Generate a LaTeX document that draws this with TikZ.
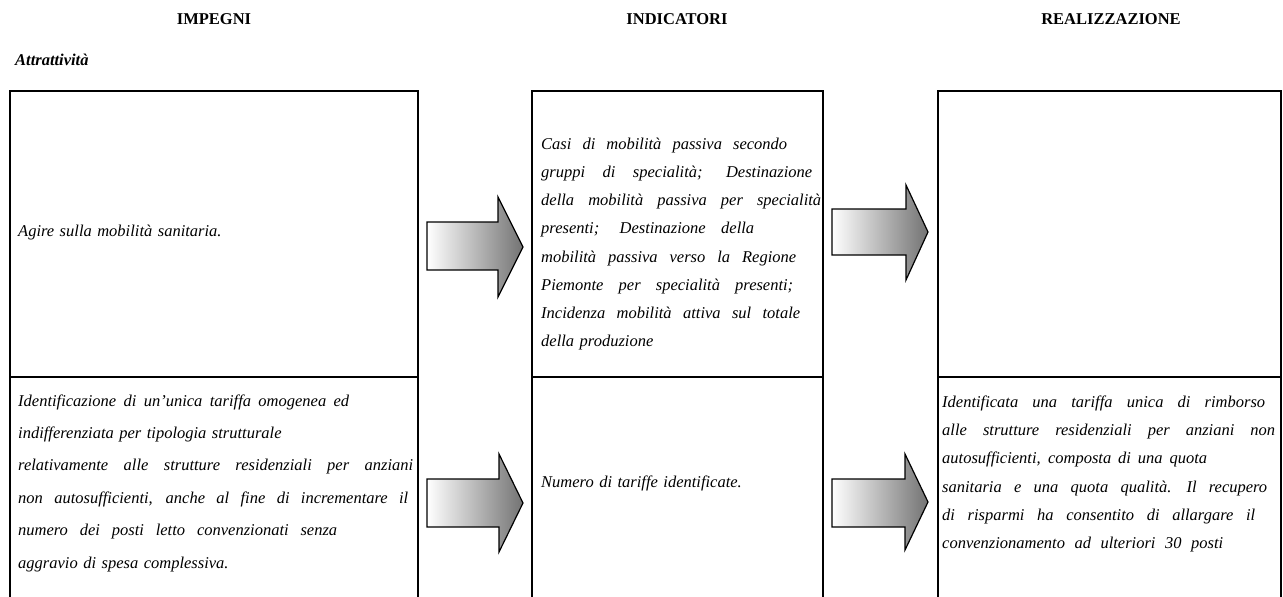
\documentclass[tikz,border=0pt]{standalone}
\usepackage{fontspec}
\setmainfont{Liberation Serif}
\newcommand\fitline[2]{\makebox[#1pt][s]{\spaceskip=.3333em plus 1fil\relax\xspaceskip=.5em plus 1fil\relax #2}}
\begin{document}
\begin{tikzpicture}[x=1pt,y=-1pt,
  frame/.style={line width=2pt, line cap=rect},
  bigarrow/.style={draw=black, line width=1.2pt, line join=miter, left color=white, right color=black!55},
  cell/.style={anchor=west, inner sep=0pt, align=left, font=\fontsize{16.5}{28.2}\selectfont\itshape},
  head/.style={inner sep=0pt, font=\fontsize{16.5}{20}\selectfont\bfseries}]
\useasboundingbox (0,0) rectangle (1283,597);
% headings
\node[head] (h1) at (214,19) {IMPEGNI};
\node[head] (h2) at (677,19) {INDICATORI};
\node[head] (h3) at (1111,19) {REALIZZAZIONE};
\node[head, anchor=west, font=\fontsize{16.5}{20}\selectfont\bfseries\itshape] (sec) at (15,60) {Attrattività};
% frames
\draw[frame] (10,600) -- (10,91) -- (418,91) -- (418,600);
\draw[frame] (10,377) -- (418,377);
\draw[frame] (532,600) -- (532,91) -- (823,91) -- (823,600);
\draw[frame] (532,377) -- (823,377);
\draw[frame] (938,600) -- (938,91) -- (1281,91) -- (1281,600);
\draw[frame] (938,377) -- (1281,377);
% arrows
\draw[bigarrow] (427,222) -- (498,222) -- (498,197) -- (523,247) -- (498,297) -- (498,270) -- (427,270) -- cycle;
\draw[bigarrow] (832,209) -- (906,209) -- (906,185) -- (928,232) -- (906,280) -- (906,255) -- (832,255) -- cycle;
\draw[bigarrow] (427,479) -- (499,479) -- (499,454) -- (523,503) -- (499,552) -- (499,527) -- (427,527) -- cycle;
\draw[bigarrow] (832,479) -- (905,479) -- (905,454) -- (928,502) -- (905,550) -- (905,527) -- (832,527) -- cycle;
% texts
\node[cell, text width=395pt] (t11) at (18,233) {Agire sulla mobilità sanitaria.};
\node[cell, text width=285pt] (t12) at (541,244) {\fitline{246}{Casi di mobilità passiva secondo}\\
\fitline{271}{gruppi di specialità; Destinazione}\\
\fitline{280}{della mobilità passiva per specialità}\\
\fitline{213}{presenti; Destinazione della}\\
\fitline{255}{mobilità passiva verso la Regione}\\
\fitline{252}{Piemonte per specialità presenti;}\\
\fitline{259}{Incidenza mobilità attiva sul totale}\\
della produzione};
\node[cell, text width=400pt, font=\fontsize{16.5}{32.4}\selectfont\itshape] (t21) at (18,483) {\fitline{331}{Identificazione di un’unica tariffa omogenea ed}\\
indifferenziata per tipologia strutturale\\
\fitline{395}{relativamente alle strutture residenziali per anziani}\\
\fitline{390}{non autosufficienti, anche al fine di incrementare il}\\
\fitline{319}{numero dei posti letto convenzionati senza}\\
aggravio di spesa complessiva.};
\node[cell, text width=285pt] (t22) at (541,483) {Numero di tariffe identificate.};
\node[cell, text width=340pt] (t23) at (942,474) {\fitline{323}{Identificata una tariffa unica di rimborso}\\
\fitline{333}{alle strutture residenziali per anziani non}\\
\fitline{265}{autosufficienti, composta di una quota}\\
\fitline{325}{sanitaria e una quota qualità. Il recupero}\\
\fitline{313}{di risparmi ha consentito di allargare il}\\
\fitline{281}{convenzionamento ad ulteriori 30 posti}};
\end{tikzpicture}
\end{document}
